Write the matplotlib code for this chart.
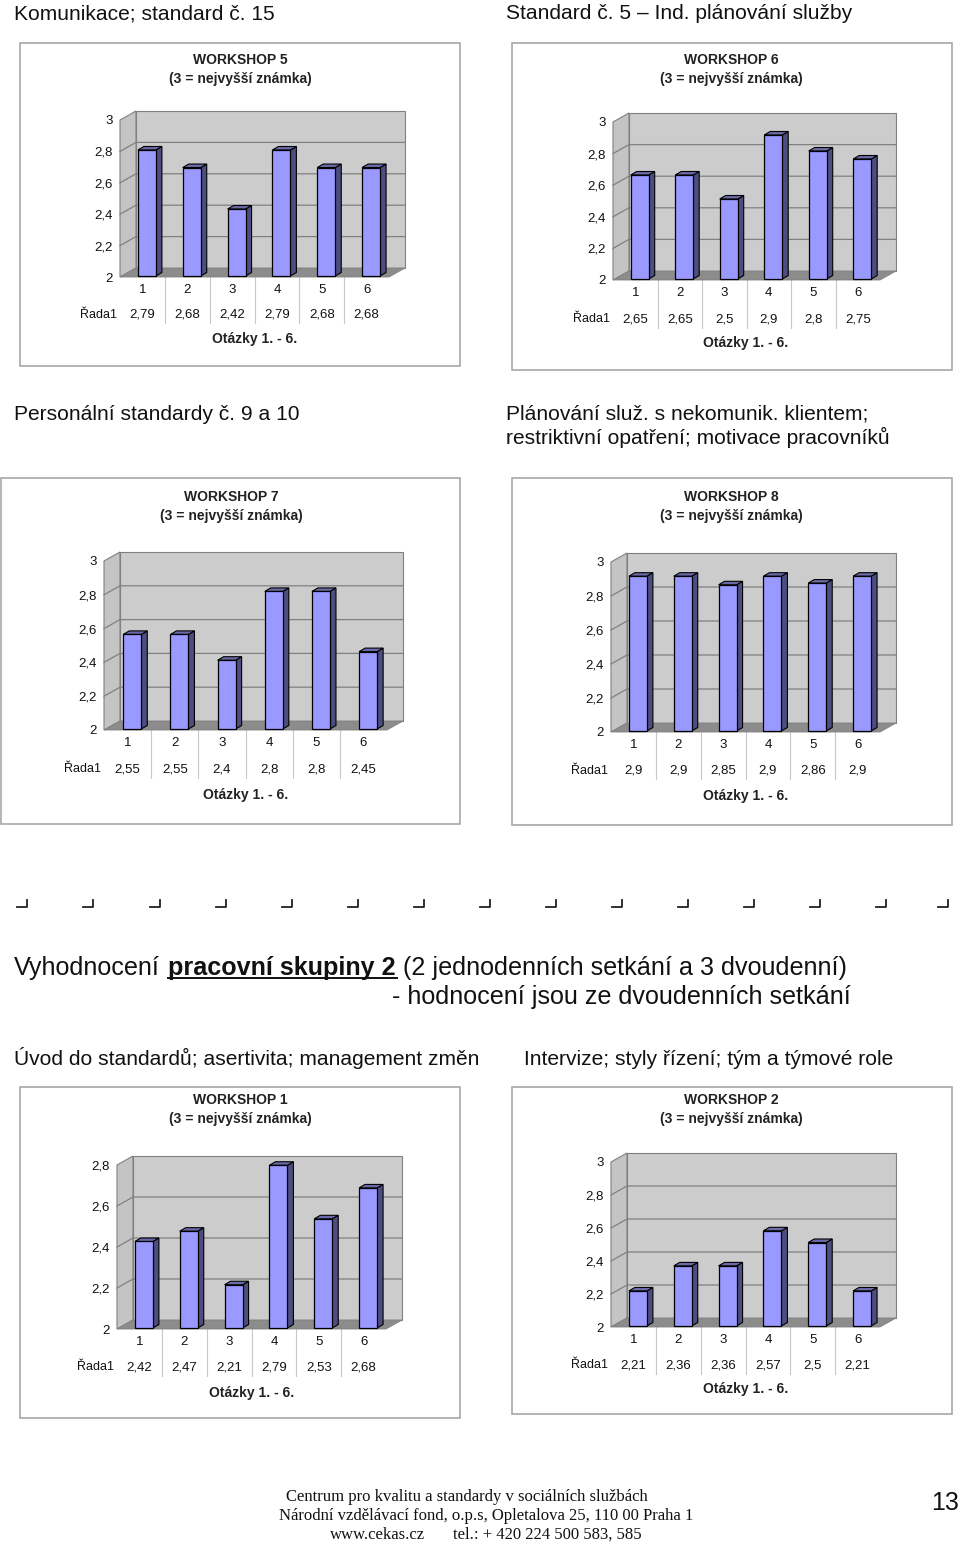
import matplotlib
matplotlib.use("Agg")
import matplotlib.pyplot as plt
from matplotlib.patches import Polygon, Rectangle

W, H = 960, 1545

questions = ["1", "2", "3", "4", "5", "6"]
ws5 = [2.79, 2.68, 2.42, 2.79, 2.68, 2.68]
ws6 = [2.65, 2.65, 2.5, 2.9, 2.8, 2.75]
ws7 = [2.55, 2.55, 2.4, 2.8, 2.8, 2.45]
ws8 = [2.9, 2.9, 2.85, 2.9, 2.86, 2.9]
ws1 = [2.42, 2.47, 2.21, 2.79, 2.53, 2.68]
ws2 = [2.21, 2.36, 2.36, 2.57, 2.5, 2.21]
ticks_3 = [2, 2.2, 2.4, 2.6, 2.8, 3]
ticks_28 = [2, 2.2, 2.4, 2.6, 2.8]

plt.rcParams['font.family'] = ['Liberation Sans', 'DejaVu Sans']
fig = plt.figure(figsize=(W / 100, H / 100), dpi=100)

# page layer, pixel coordinates
page = fig.add_axes([0, 0, 1, 1])
page.set_xlim(0, W)
page.set_ylim(H, 0)
page.axis("off")


def fmt(v):
    return f"{v:g}".replace(".", ",")


def px_axes(x0, x1, ybottom, ytop, zorder):
    a = fig.add_axes([x0 / W, 1 - ybottom / H, (x1 - x0) / W, (ybottom - ytop) / H], zorder=zorder)
    a.patch.set_alpha(0)
    return a


def chart(name, vals, ticks, frame, plane, bar_y, rows, title_pos, axis_x):
    fx0, fy0, fx1, fy1 = frame
    x0, x1, y_lo, y_hi = plane
    cat_y, val_y, axis_y = rows
    title_x, t1, t2 = title_pos
    top = ticks[-1]
    page.add_patch(Rectangle((fx0, fy0), fx1 - fx0, fy1 - fy0, fc="white", ec="#a0a0a0", lw=1.1))
    page.text(title_x, t1, name, ha="center", va="center", fontsize=10, fontweight="bold", color="#222222")
    page.text(title_x, t2, "(3 = nejvyšší známka)", ha="center", va="center", fontsize=10, fontweight="bold", color="#222222")

    # walls and floor
    dx, dy = 16, 9
    ax = px_axes(x0, x1, y_lo, y_hi, 2)
    ax.set_xlim(0, 6)
    ax.set_ylim(2, top)
    ux = 6 / (x1 - x0)
    uy = (top - 2) / (y_lo - y_hi)
    ddx, ddy = dx * ux, dy * uy
    ax.add_patch(Polygon([(0, 2), (ddx, 2 + ddy), (ddx, top + ddy), (0, top)], fc="#c4c4c4", ec="#808080", lw=0.8, clip_on=False))
    ax.add_patch(Rectangle((ddx, 2 + ddy), 6, top - 2, fc="#cccccc", ec="#808080", lw=0.8, clip_on=False))
    ax.add_patch(Polygon([(0, 2), (6, 2), (6 + ddx, 2 + ddy), (ddx, 2 + ddy)], fc="#8c8c8c", ec="#808080", lw=0.6, clip_on=False))
    for t in ticks[1:-1]:
        ax.plot([0, ddx, 6 + ddx], [t, t + ddy, t + ddy], color="#808080", lw=0.9, clip_on=False)
    ax.set_yticks(ticks)
    ax.set_yticklabels([fmt(t) for t in ticks], fontsize=9.5, color="#111111")
    ax.tick_params(axis="y", length=0, pad=5)
    ax.set_xticks([i + 0.5 for i in range(6)])
    ax.set_xticklabels(questions, fontsize=9.5, color="#111111")
    ax.tick_params(axis="x", length=0, pad=5)
    for s in ax.spines.values():
        s.set_visible(False)

    # data table under the plot
    for i in range(1, 6):
        sx = x0 + i * (x1 - x0) / 6
        page.plot([sx, sx], [y_lo, val_y + 10], color="#c8c8c8", lw=0.8)
    for i, v in enumerate(vals):
        page.text(x0 + (i + 0.5) * (x1 - x0) / 6, val_y + 1.5, fmt(v), ha="center", va="center", fontsize=9.5, color="#111111")
    page.text(x0 - 3, val_y + 1.5, "Řada1", ha="right", va="center", fontsize=9, color="#111111")
    page.text(axis_x, axis_y + 1, "Otázky 1. - 6.", ha="center", va="center", fontsize=10, fontweight="bold", color="#222222")

    # bars with their own scale
    y0_bar, per_unit = bar_y
    bax = px_axes(x0, x1, y0_bar, y0_bar - per_unit * (top - 2), 3)
    bax.set_xlim(0, 6)
    bax.set_ylim(2, top)
    bax.axis("off")
    xs = [i + 0.6 for i in range(6)]
    w = 18 * ux
    bx, by = 6 * ux, 3.5 / per_unit
    base = [2] * 6
    bax.bar(xs, [v - 2 for v in vals], bottom=base, width=w, color="#9999ff", edgecolor="black", linewidth=0.9, clip_on=False, zorder=3)
    for x, v in zip(xs, vals):
        r = x + w / 2
        l = x - w / 2
        bax.add_patch(Polygon([(r, 2), (r + bx, 2 + by), (r + bx, v + by), (r, v)], fc="#4d4d80", ec="black", lw=0.8, clip_on=False, zorder=2))
        bax.add_patch(Polygon([(l, v), (r, v), (r + bx, v + by), (l + bx, v + by)], fc="#6a6aa8", ec="black", lw=0.8, clip_on=False, zorder=2))


chart("WORKSHOP 5", ws5, ticks_3, (20, 43, 460, 366), (120, 389, 277, 120), (276, 159.5), (288, 313, 338), (240, 60.5, 78.5), 255)
chart("WORKSHOP 6", ws6, ticks_3, (512, 43, 952, 370), (613, 880, 280, 122), (279, 160), (293, 318, 342), (731, 60.5, 78.5), 746)
chart("WORKSHOP 7", ws7, ticks_3, (1, 478, 460, 824), (104, 387, 730, 561), (729, 172), (742, 768, 794), (231, 497, 516), 246)
chart("WORKSHOP 8", ws8, ticks_3, (512, 478, 952, 825), (611, 880, 732, 562), (731, 172), (744, 769, 795), (731, 497, 516), 746)
chart("WORKSHOP 1", ws1, ticks_28, (20, 1087, 460, 1418), (117, 386, 1329, 1165), (1328, 206), (1341, 1366, 1392), (240, 1100, 1118.5), 252)
chart("WORKSHOP 2", ws2, ticks_3, (512, 1087, 952, 1414), (611, 880, 1327, 1162), (1326, 167), (1339, 1364, 1388), (731, 1100, 1118.5), 746)

# headings
head = 15.1
big = 18.1
page.text(14, 19, "Komunikace; standard č. 15", fontsize=head, color="#111111")
page.text(506, 19, "Standard č. 5 – Ind. plánování služby", fontsize=head, color="#111111")
page.text(14, 420, "Personální standardy č. 9 a 10", fontsize=head, color="#111111")
page.text(506, 420, "Plánování služ. s nekomunik. klientem;", fontsize=head, color="#111111")
page.text(506, 444, "restriktivní opatření; motivace pracovníků", fontsize=head, color="#111111")
page.text(14, 1065, "Úvod do standardů; asertivita; management změn", fontsize=head, color="#111111")
page.text(524, 1065, "Intervize; styly řízení; tým a týmové role", fontsize=head, color="#111111")

page.text(14, 975, "Vyhodnocení", fontsize=big, color="#111111")
page.text(168, 975, "pracovní skupiny 2", fontsize=big, fontweight="bold", color="#111111")
page.plot([168, 397], [977.5, 977.5], color="#111111", lw=1.4)
page.text(403, 975, "(2 jednodenních setkání a 3 dvoudenní)", fontsize=big, color="#111111")
page.text(392, 1004, "- hodnocení jsou ze dvoudenních setkání", fontsize=big, color="#111111")

# corner marks
for mx in [27, 93, 160, 226, 292, 358, 424, 490, 556, 622, 688, 754, 820, 886, 948]:
    page.plot([mx - 10, mx, mx], [907, 907, 900], color="#222222", lw=1.3)

# footer
page.text(467, 1497, "Centrum pro kvalitu a standardy v sociálních službách", ha="center", va="center", fontsize=12, family="Liberation Serif", color="#111111")
page.text(486, 1516, "Národní vzdělávací fond, o.p.s, Opletalova 25, 110 00 Praha 1", ha="center", va="center", fontsize=12, family="Liberation Serif", color="#111111")
page.text(330, 1535, "www.cekas.cz", va="center", fontsize=12, family="Liberation Serif", color="#111111")
page.text(453, 1535, "tel.: + 420 224 500 583, 585", va="center", fontsize=12, family="Liberation Serif", color="#111111")
page.text(959, 1503, "13", ha="right", va="center", fontsize=18, color="#111111")

fig.savefig("out.png", dpi=100, facecolor="white")
